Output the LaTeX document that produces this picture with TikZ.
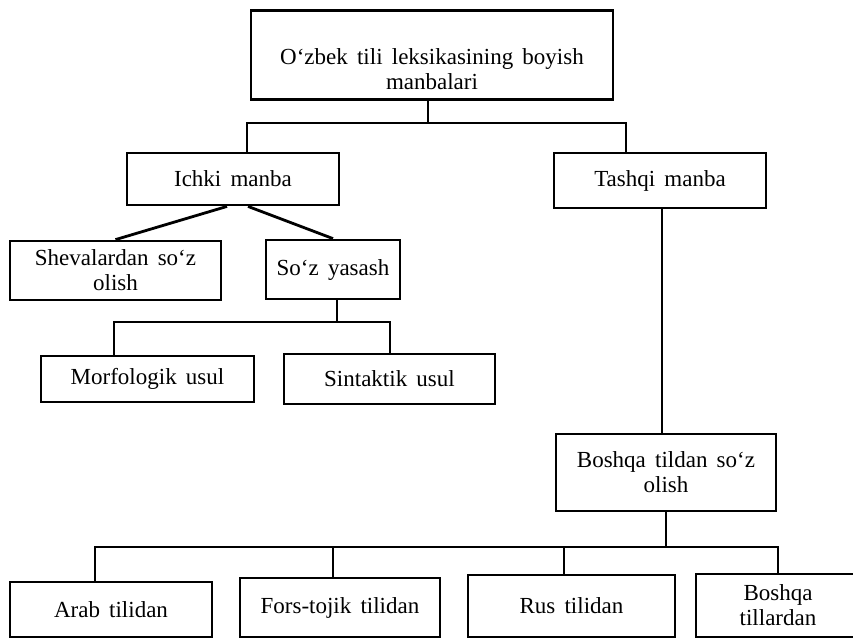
\documentclass[tikz,border=0pt]{standalone}
\usepackage{fontspec}
\setmainfont{Liberation Serif}
\newcommand\boxfont{\fontsize{23}{25}\selectfont\spaceskip 0.4em plus 0.1em\relax}
\newcommand\topstrut{\rule{0pt}{44pt}}
\begin{document}
\begin{tikzpicture}[x=1pt,y=-1pt,line width=2.8pt,
  box/.style={draw,rectangle,inner sep=0pt,align=center,font=\boxfont},
  conn/.style={line width=2.8pt}]
\useasboundingbox (0,0) rectangle (853,638);
% boxes
\node[box,minimum width=362pt,minimum height=89pt] (top) at (432,55) {\topstrut O‘zbek tili leksikasining boyish\\manbalari};
\node[box,minimum width=212pt,minimum height=52pt] (ichki) at (233,179) {Ichki manba};
\node[box,minimum width=212pt,minimum height=55pt] (tashqi) at (660,180.5) {Tashqi manba};
\node[box,minimum width=211pt,minimum height=59pt] (sheva) at (115.5,270.5) {Shevalardan so‘z\\olish};
\node[box,minimum width=134pt,minimum height=59pt] (soz) at (333,269.5) {So‘z yasash};
\node[box,minimum width=213pt,minimum height=46pt] (morf) at (147.5,379) {Morfologik usul};
\node[box,minimum width=211pt,minimum height=50pt] (sint) at (389.5,379) {Sintaktik usul};
\node[box,minimum width=220pt,minimum height=77pt] (boshqa) at (666,472.5) {Boshqa tildan so‘z\\olish};
\node[box,minimum width=202pt,minimum height=55pt] (arab) at (111,609.5) {Arab tilidan};
\node[box,minimum width=200pt,minimum height=59pt] (fors) at (340,607.5) {Fors-tojik tilidan};
\node[box,minimum width=207pt,minimum height=62pt] (rus) at (571.5,606) {Rus tilidan};
\node[box,minimum width=164pt,minimum height=63pt] (bt) at (778,605.5) {Boshqa\\tillardan};
% junction coordinates
\coordinate (j1) at (428,123);
\coordinate (a1) at (247,123);
\coordinate (a2) at (626,123);
\coordinate (j2) at (337,322);
\coordinate (b1) at (114,322);
\coordinate (b2) at (390,322);
\coordinate (c0) at (662,300);
\coordinate (j3) at (666,547);
\coordinate (d1) at (95,547);
\coordinate (d2) at (333,547);
\coordinate (d3) at (564,547);
\coordinate (d4) at (778,547);
% connectors
\draw[conn] (top.south -| j1) -- (j1);
\draw[conn] (ichki.north -| a1) -- (a1) -- (a2) -- (tashqi.north -| a2);
\draw[conn] ([xshift=-6pt]ichki.south) -- (sheva.north);
\draw[conn] ([xshift=15pt]ichki.south) -- (soz.north);
\draw[conn] (soz.south -| j2) -- (j2);
\draw[conn] (morf.north -| b1) -- (b1) -- (b2) -- (sint.north -| b2);
\draw[conn] (tashqi.south -| c0) -- (boshqa.north -| c0);
\draw[conn] (boshqa.south) -- (j3);
\draw[conn] (arab.north -| d1) -- (d1) -- (d4) -- (bt.north -| d4);
\draw[conn] (d2) -- (fors.north -| d2);
\draw[conn] (d3) -- (rus.north -| d3);
\end{tikzpicture}
\end{document}
